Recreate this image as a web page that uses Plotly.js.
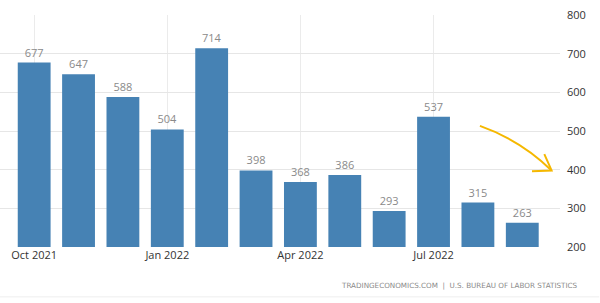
<!DOCTYPE html>
<html><head><meta charset="utf-8">
<script src="https://cdn.plot.ly/plotly-3.0.1.min.js"></script>
<style>html,body{margin:0;padding:0;background:#fff}#chart{width:600px;height:303px}</style>
</head><body><div id="chart"></div>
<script>
const months = ["Oct 2021","Nov 2021","Dec 2021","Jan 2022","Feb 2022","Mar 2022","Apr 2022","May 2022","Jun 2022","Jul 2022","Aug 2022","Sep 2022"];
const values = [677,647,588,504,714,398,368,386,293,537,315,263];
const tickMonths = ["Oct 2021","Jan 2022","Apr 2022","Jul 2022"];
const yTicks = [200,300,400,500,600,700,800];
const sourceText = "TRADINGECONOMICS.COM  |  U.S. BUREAU OF LABOR STATISTICS";

const trace = {
  type: "bar", x: months, y: values,
  marker: {color: "#4682b4"},
  text: values.map(String), textposition: "outside",
  textfont: {family: "Open Sans", size: 11, color: "#8a8a8a"},
  cliponaxis: false, hoverinfo: "skip"
};
const layout = {
  width: 600, height: 303,
  margin: {l: 0, r: 40, t: 15, b: 56},
  paper_bgcolor: "#fff", plot_bgcolor: "#fff",
  bargap: 0.26, showlegend: false,
  xaxis: {type: "category", range: [-0.77, 11.85], tickvals: tickMonths, ticktext: tickMonths,
    showgrid: true, gridcolor: "#ebebeb", ticks: "", showline: false, zeroline: false,
    tickfont: {family: "Open Sans", size: 11, color: "#333"}},
  yaxis: {side: "right", range: [200, 800], tickvals: yTicks, showgrid: true, gridcolor: "#e6e6e6",
    zeroline: false, showline: false, ticks: "", ticklabelstandoff: 6,
    tickfont: {family: "Open Sans", size: 11, color: "#333"}},
  annotations: [{xref: "paper", yref: "paper", x: 1.035, y: -0.165, xanchor: "right", yanchor: "middle",
    text: sourceText, showarrow: false, font: {family: "DejaVu Sans", size: 7.2, color: "#8a8a8a"}}],
  shapes: [
    {type: "line", xref: "paper", yref: "paper", x0: 0, x1: 1.07, y0: -0.215, y1: -0.215, line: {color: "#eeeeee", width: 1}},
    {type: "path", xref: "paper", yref: "paper", path: "M 0.857 0.522 Q 0.93 0.46 0.985 0.33", line: {color: "#f5b800", width: 2}},
    {type: "path", xref: "paper", yref: "paper", path: "M 0.972 0.40 L 0.985 0.33 L 0.95 0.327", line: {color: "#f5b800", width: 2}}
  ]
};
Plotly.newPlot("chart", [trace], layout, {staticPlot: true, displayModeBar: false});
</script></body></html>
